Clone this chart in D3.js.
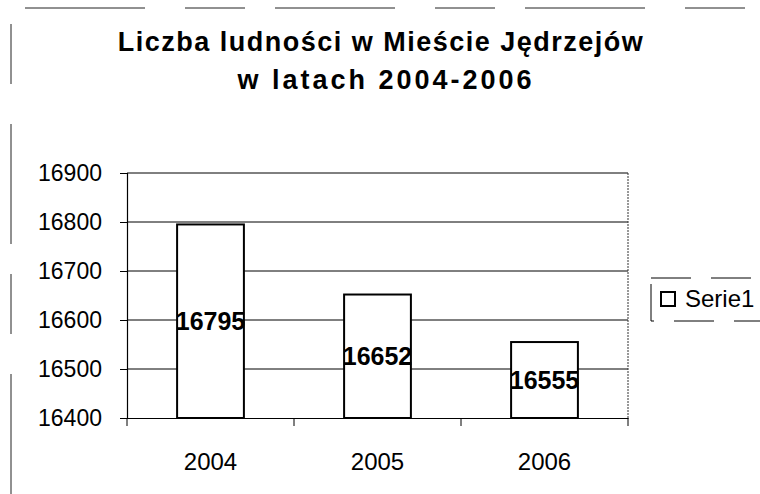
<!DOCTYPE html>
<meta charset="utf-8">
<style>
body { margin: 0; background: #fff; }
svg { display: block; }
text { font-family: "Liberation Sans", Arial, sans-serif; fill: #000; }
.title { font-weight: bold; font-size: 27px; }
.tick text { font-size: 23px; }
.x .tick text { font-size: 24px; }
.value { font-weight: bold; font-size: 25px; }
</style>
<svg width="760" height="494"></svg>
<script src="https://d3js.org/d3.v7.min.js"></script>
<script>

var years = ["2004", "2005", "2006"];
var people = [16795, 16652, 16555];
var yTicks = [16400, 16500, 16600, 16700, 16800, 16900];
var seriesName = "Serie1";
var titleLines = ["Liczba ludności w Mieście Jędrzejów", "w latach 2004-2006"];

var svg = d3.select("svg");

// chart area frame (scan left only bits of it)
svg.append("path")
    .attr("d", "M11,494V8H760")
    .attr("fill", "none")
    .attr("stroke", "#222")
    .attr("stroke-width", 1)
    .attr("stroke-dasharray", "120,40,60,30");

var plot = { left: 127, right: 628, top: 173, bottom: 418 };

var x = d3.scaleBand()
    .domain(years)
    .range([plot.left, plot.right])
    .paddingInner(0.6)
    .paddingOuter(0.3);

var y = d3.scaleLinear()
    .domain([16400, 16900])
    .range([plot.bottom, plot.top]);

// title
svg.selectAll(".title")
    .data(titleLines)
  .enter().append("text")
    .attr("class", "title")
    .attr("x", function(d, i) { return i ? 386 : 381; })
    .attr("y", function(d, i) { return 51 + i * 38; })
    .attr("text-anchor", "middle")
    .style("letter-spacing", function(d, i) { return i ? "3px" : "1.5px"; })
    .text(function(d) { return d; });

// gridlines
svg.append("g")
  .selectAll("line")
    .data(yTicks.slice(1))
  .enter().append("line")
    .attr("x1", plot.left)
    .attr("x2", plot.right)
    .attr("y1", function(d) { return y(d); })
    .attr("y2", function(d) { return y(d); })
    .attr("stroke", "#000")
    .attr("stroke-width", 1);

// plot area right edge
svg.append("line")
    .attr("x1", plot.right).attr("x2", plot.right)
    .attr("y1", plot.top).attr("y2", plot.bottom)
    .attr("stroke", "#333")
    .attr("stroke-dasharray", "2,1");

// bars
svg.append("g")
  .selectAll("rect")
    .data(people)
  .enter().append("rect")
    .attr("x", function(d, i) { return x(years[i]); })
    .attr("y", function(d) { return y(d); })
    .attr("width", x.bandwidth())
    .attr("height", function(d) { return y(16400) - y(d); })
    .attr("fill", "#fff")
    .attr("stroke", "#000")
    .attr("stroke-width", 2);

// value labels, centred in bars
svg.append("g")
  .selectAll("text")
    .data(people)
  .enter().append("text")
    .attr("class", "value")
    .attr("x", function(d, i) { return x(years[i]) + x.bandwidth() / 2; })
    .attr("y", function(d) { return (y(d) + y(16400)) / 2; })
    .attr("dy", "0.36em")
    .attr("text-anchor", "middle")
    .text(function(d) { return d; });

// y axis
var yAxis = svg.append("g")
    .attr("class", "y axis")
    .attr("transform", "translate(" + plot.left + ",0)")
    .call(d3.axisLeft(y).tickValues(yTicks).tickSize(7).tickPadding(18).tickFormat(d3.format("d")));

// x axis with ticks between categories
var xAxis = svg.append("g")
    .attr("class", "x axis")
    .attr("transform", "translate(0," + plot.bottom + ")")
    .call(d3.axisBottom(x).tickSize(0).tickPadding(40));

var step = x.step();
xAxis.selectAll(".sep")
    .data(d3.range(years.length + 1))
  .enter().append("line")
    .attr("class", "sep")
    .attr("x1", function(d) { return plot.left + d * step; })
    .attr("x2", function(d) { return plot.left + d * step; })
    .attr("y1", 0)
    .attr("y2", 8)
    .attr("stroke", "#000");

svg.selectAll(".axis path").attr("stroke", "#000").attr("stroke-width", 1.2);
svg.selectAll(".axis line").attr("stroke", "#000");
svg.selectAll(".axis text").attr("font-family", null).attr("font-size", null).attr("fill", "#000");
xAxis.selectAll(".tick text").attr("dy", null).attr("y", 52);

// legend
var legend = svg.append("g").attr("transform", "translate(651,278)");
legend.append("rect")
    .attr("width", 130)
    .attr("height", 43)
    .attr("fill", "none")
    .attr("stroke", "#000")
    .attr("stroke-dasharray", "40,20");
legend.append("rect")
    .attr("x", 10).attr("y", 14)
    .attr("width", 14).attr("height", 14)
    .attr("fill", "#fff")
    .attr("stroke", "#000")
    .attr("stroke-width", 2);
legend.append("text")
    .attr("x", 34)
    .attr("y", 29)
    .style("font-size", "24px")
    .text(seriesName);

</script>
